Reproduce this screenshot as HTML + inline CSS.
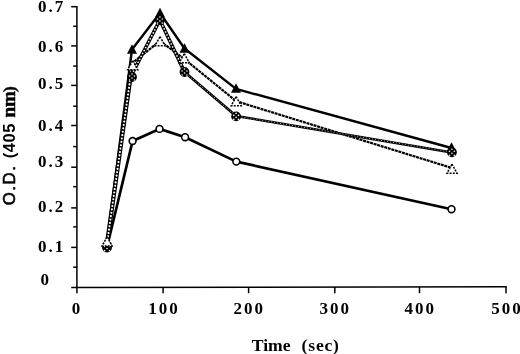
<!DOCTYPE html>
<html><head><meta charset="utf-8">
<style>
html,body{margin:0;padding:0;background:#fff;}
body{width:520px;height:354px;overflow:hidden;position:relative;}
svg{position:absolute;left:0;top:0;will-change:transform;}
text{font-family:"Liberation Serif",serif;font-weight:bold;fill:#000;}
</style></head><body>
<svg width="520" height="354" viewBox="0 0 520 354">
<!-- axes -->
<g stroke="#000" stroke-width="1.5" fill="none">
<line x1="76.9" y1="6" x2="76.9" y2="293.2"/>
<line x1="71.2" y1="287.5" x2="506.7" y2="286.80"/>
<line x1="71.2" y1="6.7" x2="76.9" y2="6.7"/>
<line x1="71.2" y1="45.9" x2="76.9" y2="45.9"/>
<line x1="71.2" y1="85.4" x2="76.9" y2="85.4"/>
<line x1="71.2" y1="125.5" x2="76.9" y2="125.5"/>
<line x1="71.2" y1="167.2" x2="76.9" y2="167.2"/>
<line x1="71.2" y1="207.9" x2="76.9" y2="207.9"/>
<line x1="71.2" y1="247.4" x2="76.9" y2="247.4"/>
<line x1="73.2" y1="26.3" x2="76.9" y2="26.3"/>
<line x1="73.2" y1="66.05" x2="76.9" y2="66.05"/>
<line x1="73.2" y1="106.2" x2="76.9" y2="106.2"/>
<line x1="73.2" y1="146.6" x2="76.9" y2="146.6"/>
<line x1="73.2" y1="186.7" x2="76.9" y2="186.7"/>
<line x1="73.2" y1="226.9" x2="76.9" y2="226.9"/>
<line x1="73.2" y1="267.2" x2="76.9" y2="267.2"/>
<line x1="163.1" y1="287.36" x2="163.1" y2="293.2"/>
<line x1="248.6" y1="287.22" x2="248.6" y2="293.2"/>
<line x1="334.8" y1="287.08" x2="334.8" y2="293.2"/>
<line x1="419.5" y1="286.94" x2="419.5" y2="293.2"/>
<line x1="506" y1="286.80" x2="506" y2="293.2"/>
</g>
<!-- y labels -->
<g font-size="17" letter-spacing="2">
<text x="38" y="12.3">0.7</text>
<text x="38" y="52.2">0.6</text>
<text x="38" y="88.7">0.5</text>
<text x="38" y="131">0.4</text>
<text x="38" y="167.4">0.3</text>
<text x="38" y="211.7">0.2</text>
<text x="38" y="251.8">0.1</text>
<text x="40.6" y="284.8">0</text>
</g>
<!-- x labels -->
<g font-size="17" text-anchor="middle" letter-spacing="2">
<text x="77" y="313.6">0</text>
<text x="164" y="313.6">100</text>
<text x="249.35" y="313.6">200</text>
<text x="335.35" y="313.6">300</text>
<text x="420.15" y="313.6">400</text>
<text x="507" y="313.6">500</text>
</g>
<text x="251.8" y="351" font-size="17.6">Time</text>
<text x="301.6" y="351" font-size="17.6" letter-spacing="0.8">(sec)</text>
<g transform="rotate(-90)">
<text x="-205.3" y="14.9" font-size="16.8" letter-spacing="1.6" style="font-family:'Liberation Sans',sans-serif;font-weight:normal" stroke="#000" stroke-width="0.6">O.D.</text>
<text x="-158.3" y="14.6" font-size="16.5" letter-spacing="0.6" style="font-family:'Liberation Sans',sans-serif">(405</text>
<text x="-117.4" y="15.4" font-size="19" letter-spacing="-0.2" font-weight="normal" stroke="#000" stroke-width="0.5">nm</text>
<text x="-92" y="15" font-size="17.5" font-weight="normal" stroke="#000" stroke-width="0.4">)</text>
</g>

<!-- series D: open circles solid -->
<polyline fill="none" stroke="#000" stroke-width="2.7" stroke-linejoin="round" points="107.5,245 132.6,141 159.5,128.9 185.1,137.2 236.3,161.6 451.5,209.2"/>
<!-- series B: dashed -->
<polyline fill="none" stroke="#000" stroke-width="2.2" stroke-dasharray="3 0.7" points="106.7,244 133.5,62 160,41 184.3,59 236.2,101.2 452,168"/>
<!-- series A: solid thick -->
<polyline fill="none" stroke="#000" stroke-width="2.4" stroke-linejoin="round" points="106.7,244 132,49.5 160,13 184.5,48.5 236,88.9 451.5,148"/>
<!-- series C: hatched -->
<line x1="106.6" y1="246.5" x2="130.5" y2="77" stroke="#000" stroke-width="4.2" stroke-linecap="round"/><line x1="130.5" y1="77" x2="159.9" y2="20" stroke="#000" stroke-width="3.6" stroke-linecap="round"/><line x1="159.9" y1="20" x2="184.5" y2="72" stroke="#000" stroke-width="3.6" stroke-linecap="round"/><line x1="184.5" y1="72" x2="236.1" y2="116" stroke="#000" stroke-width="2.8" stroke-linecap="round"/><line x1="236.1" y1="116" x2="451.9" y2="152.4" stroke="#000" stroke-width="2.5" stroke-linecap="round"/><line x1="106.6" y1="246.5" x2="130.5" y2="77" stroke="#fff" stroke-width="2.1" stroke-linecap="round" stroke-dasharray="0.01 3.4"/><line x1="130.5" y1="77" x2="159.9" y2="20" stroke="#fff" stroke-width="1.7" stroke-linecap="round" stroke-dasharray="0.01 3.3"/><line x1="159.9" y1="20" x2="184.5" y2="72" stroke="#fff" stroke-width="1.7" stroke-linecap="round" stroke-dasharray="0.01 3.3"/><line x1="184.5" y1="72" x2="236.1" y2="116" stroke="#fff" stroke-width="1.0" stroke-linecap="round" stroke-dasharray="0.01 3.0"/><line x1="236.1" y1="116" x2="451.9" y2="152.4" stroke="#fff" stroke-width="0.8" stroke-linecap="round" stroke-dasharray="0.01 3.0"/>
<g fill="#fff" stroke="#000" stroke-width="1.6"><circle cx="107.5" cy="245" r="3.4"/><circle cx="132.6" cy="141" r="3.4"/><circle cx="159.5" cy="128.9" r="3.4"/><circle cx="185.1" cy="137.2" r="3.4"/><circle cx="236.3" cy="161.6" r="3.4"/><circle cx="451.5" cy="209.2" r="3.4"/></g>
<g fill="#000"><path d="M132,44.2 l5,9.6 h-10 z"/><path d="M160,7.7 l5,9.6 h-10 z"/><path d="M184.5,43.2 l5,9.6 h-10 z"/><path d="M236,83.2 l5,9.6 h-10 z"/><path d="M451.5,142.2 l5,9.6 h-10 z"/></g>
<g><g transform="translate(107,247.5)"><circle r="4.9" fill="#000"/><circle cx="0" cy="-3" r="0.8" fill="#fff"/><circle cx="-2.4" cy="-1" r="0.8" fill="#fff"/><circle cx="2.4" cy="-1" r="0.8" fill="#fff"/><circle cx="0" cy="1" r="0.8" fill="#fff"/><circle cx="-2.4" cy="3" r="0.8" fill="#fff"/><circle cx="2.4" cy="3" r="0.8" fill="#fff"/></g><g transform="translate(132,77)"><circle r="4.9" fill="#000"/><circle cx="0" cy="-3" r="0.8" fill="#fff"/><circle cx="-2.4" cy="-1" r="0.8" fill="#fff"/><circle cx="2.4" cy="-1" r="0.8" fill="#fff"/><circle cx="0" cy="1" r="0.8" fill="#fff"/><circle cx="-2.4" cy="3" r="0.8" fill="#fff"/><circle cx="2.4" cy="3" r="0.8" fill="#fff"/></g><g transform="translate(159.9,20)"><circle r="4.9" fill="#000"/><circle cx="0" cy="-3" r="0.8" fill="#fff"/><circle cx="-2.4" cy="-1" r="0.8" fill="#fff"/><circle cx="2.4" cy="-1" r="0.8" fill="#fff"/><circle cx="0" cy="1" r="0.8" fill="#fff"/><circle cx="-2.4" cy="3" r="0.8" fill="#fff"/><circle cx="2.4" cy="3" r="0.8" fill="#fff"/></g><g transform="translate(184.5,72)"><circle r="4.9" fill="#000"/><circle cx="0" cy="-3" r="0.8" fill="#fff"/><circle cx="-2.4" cy="-1" r="0.8" fill="#fff"/><circle cx="2.4" cy="-1" r="0.8" fill="#fff"/><circle cx="0" cy="1" r="0.8" fill="#fff"/><circle cx="-2.4" cy="3" r="0.8" fill="#fff"/><circle cx="2.4" cy="3" r="0.8" fill="#fff"/></g><g transform="translate(236.1,116.4)"><circle r="4.9" fill="#000"/><circle cx="0" cy="-3" r="0.8" fill="#fff"/><circle cx="-2.4" cy="-1" r="0.8" fill="#fff"/><circle cx="2.4" cy="-1" r="0.8" fill="#fff"/><circle cx="0" cy="1" r="0.8" fill="#fff"/><circle cx="-2.4" cy="3" r="0.8" fill="#fff"/><circle cx="2.4" cy="3" r="0.8" fill="#fff"/></g><g transform="translate(451.9,152.3)"><circle r="4.9" fill="#000"/><circle cx="0" cy="-3" r="0.8" fill="#fff"/><circle cx="-2.4" cy="-1" r="0.8" fill="#fff"/><circle cx="2.4" cy="-1" r="0.8" fill="#fff"/><circle cx="0" cy="1" r="0.8" fill="#fff"/><circle cx="-2.4" cy="3" r="0.8" fill="#fff"/><circle cx="2.4" cy="3" r="0.8" fill="#fff"/></g></g>
<g fill="#fff" stroke="#000" stroke-width="1.5" stroke-dasharray="2 1.2"><path d="M107.1,236.7 l5,9.3 h-10 z"/><path d="M132.7,60.5 l5,9.3 h-10 z"/><path d="M160,36.5 l5,9.3 h-10 z"/><path d="M184.3,53.5 l5,9.3 h-10 z"/><path d="M236.2,96.5 l5,9.3 h-10 z"/><path d="M452,164.0 l5,9.3 h-10 z"/></g>
</svg>
</body></html>
